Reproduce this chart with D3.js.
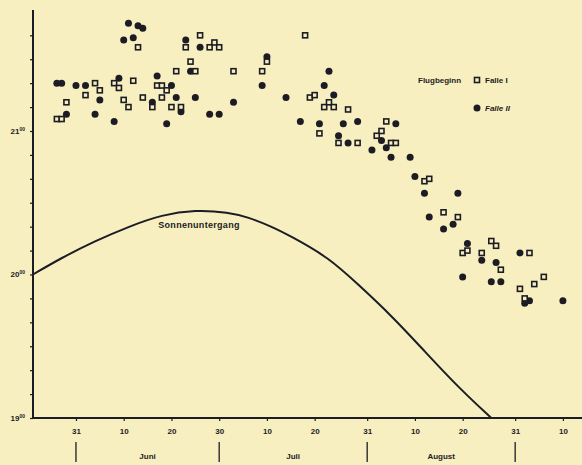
<!DOCTYPE html>
<html>
<head>
<meta charset="utf-8">
<script src="https://d3js.org/d3.v7.min.js"></script>
<style>
  html, body { margin: 0; padding: 0; background: #f8efc0; }
  svg { display: block; }
  text { font-family: "Liberation Sans Narrow", "Liberation Sans", "DejaVu Sans", sans-serif; font-weight: bold; fill: #1c1c24; }
</style>
</head>
<body>
<svg id="chart" width="582" height="465"></svg>
<script>
// Flugbeginn, Falle I (hollow squares): date MM-DD, time HH:MM
var falle1Dates = ["05-27","05-28","05-29","06-02","06-04","06-05","06-08","06-09","06-10","06-11",
  "06-12","06-13","06-14","06-16","06-17","06-18","06-19","06-18","06-20","06-21",
  "06-22","06-23","06-24","06-25","06-26","06-28","06-29","06-30","07-03","07-09",
  "07-10","07-18","07-19","07-20","07-22","07-23","07-24","07-21","07-27","07-25",
  "07-29","08-04","08-03","08-02","08-05","08-06","08-12","08-13","08-16","08-19",
  "08-20","08-21","08-26","08-27","08-24","08-28","09-03","09-06","09-04","09-01","09-02"];
var falle1Times = ["21:05","21:05","21:12","21:15","21:20","21:17","21:20","21:18","21:13","21:10",
  "21:21","21:35","21:14","21:10","21:19","21:19","21:17","21:14","21:10","21:25",
  "21:10","21:35","21:29","21:25","21:40","21:35","21:37","21:35","21:25","21:25",
  "21:29","21:40","21:14","21:15","21:10","21:12","21:10","20:59","21:09","20:55",
  "20:55","21:04","21:00","20:58","20:55","20:55","20:39","20:40","20:26","20:24",
  "20:09","20:10","20:14","20:12","20:09","20:02","20:09","19:59","19:56","19:54","19:50"];

// Falle II (filled circles)
var falle2Dates = ["05-27","05-28","05-29","05-31","06-02","06-04","06-05","06-08","06-09","06-10",
  "06-11","06-12","06-13","06-14","06-16","06-17","06-19","06-20","06-21","06-22",
  "06-23","06-24","06-25","06-26","06-28","06-30","07-03","07-09","07-10","07-14",
  "07-17","07-22","07-23","07-24","07-21","07-26","07-29","07-25","07-27","08-06",
  "08-03","08-01","08-04","08-05","08-09","08-10","08-12","08-19","08-13","08-16",
  "08-18","08-21","08-24","08-27","09-01","08-20","08-26","08-28","09-03","09-02","09-10"];
var falle2Times = ["21:20","21:20","21:07","21:19","21:19","21:07","21:13","21:04","21:22","21:38",
  "21:45","21:39","21:44","21:43","21:12","21:23","21:03","21:19","21:14","21:08",
  "21:38","21:25","21:14","21:35","21:07","21:07","21:12","21:19","21:31","21:14",
  "21:04","21:19","21:25","21:15","21:03","21:03","21:04","20:58","20:55","21:03",
  "20:56","20:52","20:53","20:49","20:49","20:41","20:34","20:34","20:24","20:19",
  "20:21","20:13","20:06","20:05","20:09","19:59","19:57","19:57","19:49","19:48","19:49"];

// Sonnenuntergang
var sunDates = ["05-22","05-28","06-04","06-11","06-18","06-25","07-02","07-06","07-11","07-15",
  "07-23","07-29","08-05","08-12","08-19","08-26"];
var sunTimes = ["20:00","20:07","20:14","20:20","20:25","20:27","20:26","20:24","20:20","20:16",
  "20:07","19:56","19:43","19:28","19:13","19:00"];

var dayTicks = ["05-31","06-10","06-20","06-30","07-10","07-20","07-31","08-10","08-20","08-31","09-10"];
var monthBounds = ["05-31","06-30","07-31","08-31"];
var monthNames = ["Juni","Juli","August"];
var hourTicks = [19, 20, 21];

var YEAR = 1950;
function toDate(s) { var p = s.split("-"); return new Date(YEAR, +p[0] - 1, +p[1]); }
function toMin(s) { var p = s.split(":"); return +p[0] * 60 + +p[1]; }
function pairs(ds, ts) { return ds.map(function(d, i) { return { date: toDate(d), t: toMin(ts[i]) }; }); }

var ink = "#1c1c24";
var svg = d3.select("#chart");

var x = d3.scaleTime()
  .domain([toDate("05-22"), toDate("09-14")])
  .range([33, 582]);
var y = d3.scaleLinear()
  .domain([19 * 60, 21 * 60 + 50])
  .range([418, 11.4]);

// y axis with 10-minute ticks
var yAxis = d3.axisLeft(y)
  .tickValues(d3.range(19 * 60, 21 * 60 + 41, 10))
  .tickSize(3)
  .tickFormat("");
var gy = svg.append("g").attr("transform", "translate(33,0)").call(yAxis);
gy.select(".domain").remove();
gy.selectAll("line").attr("stroke", ink).attr("stroke-width", 1.2);
svg.append("line").attr("x1", 33).attr("x2", 33).attr("y1", 10).attr("y2", 419)
  .attr("stroke", ink).attr("stroke-width", 2);

hourTicks.forEach(function(h) {
  var t = svg.append("text")
    .attr("x", 25).attr("y", y(h * 60) + 3)
    .attr("text-anchor", "end")
    .style("font-size", "8px");
  t.append("tspan").text(h);
  t.append("tspan").attr("dy", -3).style("font-size", "5px").text("00");
});

// x axis
var xAxis = d3.axisBottom(x)
  .tickValues(dayTicks.map(toDate))
  .tickSize(3)
  .tickFormat(d3.timeFormat("%-d"));
var gx = svg.append("g").attr("transform", "translate(0,418)").call(xAxis);
gx.select(".domain").remove();
gx.selectAll("line").attr("stroke", ink).attr("stroke-width", 1.2);
gx.selectAll("text").attr("dy", "1.2em").style("font-size", "8px").attr("fill", ink)
  .style("font-family", "'Liberation Sans Narrow', 'Liberation Sans', sans-serif");
svg.append("line").attr("x1", 32).attr("x2", 582).attr("y1", 418).attr("y2", 418)
  .attr("stroke", ink).attr("stroke-width", 2);

// month separators and names
monthBounds.forEach(function(m) {
  svg.append("line")
    .attr("x1", x(toDate(m))).attr("x2", x(toDate(m)))
    .attr("y1", 442).attr("y2", 462)
    .attr("stroke", ink).attr("stroke-width", 1.3);
});
monthNames.forEach(function(name, i) {
  var a = x(toDate(monthBounds[i])), b = x(toDate(monthBounds[i + 1]));
  svg.append("text").attr("x", (a + b) / 2).attr("y", 459)
    .attr("text-anchor", "middle").style("font-size", "8px").text(name);
});

// sunset curve
var line = d3.line()
  .x(function(d) { return x(d.date); })
  .y(function(d) { return y(d.t); })
  .curve(d3.curveBasis);
svg.append("path")
  .datum(pairs(sunDates, sunTimes))
  .attr("fill", "none").attr("stroke", ink).attr("stroke-width", 2)
  .attr("d", line);
svg.append("text").attr("x", 199).attr("y", 228)
  .attr("text-anchor", "middle").style("font-size", "9px").style("letter-spacing", "0.3px")
  .text("Sonnenuntergang");

// Falle II circles
svg.append("g").selectAll("circle")
  .data(pairs(falle2Dates, falle2Times))
  .join("circle")
  .attr("cx", function(d) { return x(d.date); })
  .attr("cy", function(d) { return y(d.t); })
  .attr("r", 3.5)
  .attr("fill", ink);

// Falle I squares
var s = 5;
svg.append("g").selectAll("rect")
  .data(pairs(falle1Dates, falle1Times))
  .join("rect")
  .attr("x", function(d) { return x(d.date) - s / 2; })
  .attr("y", function(d) { return y(d.t) - s / 2; })
  .attr("width", s).attr("height", s)
  .attr("fill", "#f8efc0")
  .attr("stroke", ink).attr("stroke-width", 1.6);

// legend
svg.append("text").attr("x", 418).attr("y", 83).style("font-size", "8px").text("Flugbeginn");
svg.append("rect").attr("x", 474.5).attr("y", 77.5).attr("width", s).attr("height", s)
  .attr("fill", "#f8efc0").attr("stroke", ink).attr("stroke-width", 1.6);
svg.append("text").attr("x", 485).attr("y", 83).style("font-size", "8px").text("Falle I");
svg.append("circle").attr("cx", 477).attr("cy", 108).attr("r", 3.5).attr("fill", ink);
svg.append("text").attr("x", 485).attr("y", 111).style("font-size", "8px").style("font-style", "italic").text("Falle II");
</script>
</body>
</html>
